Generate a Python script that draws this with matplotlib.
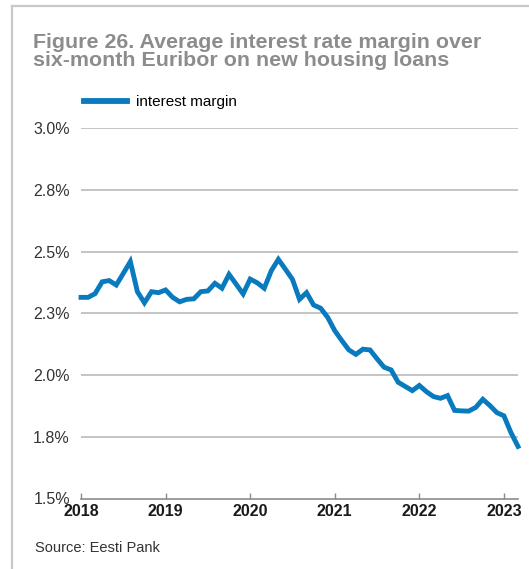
import matplotlib
matplotlib.use("Agg")
import matplotlib.pyplot as plt
from matplotlib.lines import Line2D
import numpy as np

plt.rcParams['font.family'] = ['Liberation Sans', 'DejaVu Sans']

# Monthly average margin over 6-month Euribor, Jan 2018 - Mar 2023 (%)
start_year = 2018
margin = [
    2.315, 2.315, 2.330, 2.378, 2.383, 2.365, 2.412, 2.460, 2.338, 2.293, 2.338, 2.334,
    2.345, 2.315, 2.297, 2.307, 2.309, 2.338, 2.341, 2.372, 2.352, 2.408, 2.369, 2.329,
    2.389, 2.374, 2.352, 2.423, 2.469, 2.429, 2.388, 2.307, 2.334, 2.284, 2.271, 2.234,
    2.180, 2.140, 2.102, 2.084, 2.105, 2.102, 2.066, 2.032, 2.021, 1.971, 1.954, 1.937,
    1.958, 1.933, 1.913, 1.906, 1.917, 1.857, 1.855, 1.854, 1.869, 1.902, 1.877, 1.848,
    1.835, 1.767, 1.711,
]
year_ticks = [2018, 2019, 2020, 2021, 2022, 2023]
y_ticks = [1.5, 1.75, 2.0, 2.25, 2.5, 2.75, 3.0]
y_tick_labels = ["1.5%", "1.8%", "2.0%", "2.3%", "2.5%", "2.8%", "3.0%"]
series_name = "interest margin"

dates = start_year + np.arange(len(margin)) / 12.0

W, H = 529, 569
fig = plt.figure(figsize=(W / 100, H / 100), dpi=100)

blue = "#0a7abf"
grid_c = "#c4c4c4"

ax = fig.add_axes([81 / W, 1 - 498.5 / H, (518 - 81) / W, (498.5 - 128.3) / H])
ax.plot(dates, margin, color=blue, lw=3.5, solid_joinstyle="miter", zorder=3,
        clip_on=False)

ax.set_xlim(dates[0], dates[-1])
ax.set_ylim(1.5, 3.0)
ax.set_yticks(y_ticks)
ax.set_yticklabels(y_tick_labels)
ax.set_xticks(year_ticks)
ax.set_xticklabels([str(y) for y in year_ticks], fontweight="bold")

for v in y_ticks[1:]:
    ax.axhline(v, color=grid_c, lw=1.4, zorder=1)

for s in ("left", "right", "top"):
    ax.spines[s].set_visible(False)
ax.spines["bottom"].set_color("#8c8c8c")
ax.spines["bottom"].set_linewidth(1.2)

ax.tick_params(axis="y", length=0, pad=8, labelsize=11.5, labelcolor="#333333")
ax.tick_params(axis="x", direction="in", length=4.5, width=1, color="#8c8c8c",
               pad=4, labelsize=11.5, labelcolor="#1a1a1a")

# Legend
leg_handle = Line2D([0], [0], color=blue, lw=4.2)
fig.legend([leg_handle], [series_name], loc="center left",
           bbox_to_anchor=(70 / W, 1 - 102 / H), frameon=False,
           handlelength=2.85, handletextpad=0.6, fontsize=11)

# Title
fig.text(33 / W, 1 - 33 / H,
         "Figure 26. Average interest rate margin over\nsix-month Euribor on new housing loans",
         ha="left", va="top", fontsize=15.4, fontweight="bold", color="#8c8c8c",
         linespacing=0.92)

# Source
fig.text(35 / W, 1 - 548 / H, "Source: Eesti Pank", ha="left", va="center",
         fontsize=10.5, color="#333333")

# Frame lines
frame_c = "#c8c8c8"
fig.add_artist(Line2D([11.5 / W, 11.5 / W], [0, 1 - 6 / H], color=frame_c, lw=1.6,
                      transform=fig.transFigure))
fig.add_artist(Line2D([11.5 / W, 1], [1 - 6 / H, 1 - 6 / H], color=frame_c, lw=1.6,
                      transform=fig.transFigure))

fig.savefig("out.png", dpi=100)
